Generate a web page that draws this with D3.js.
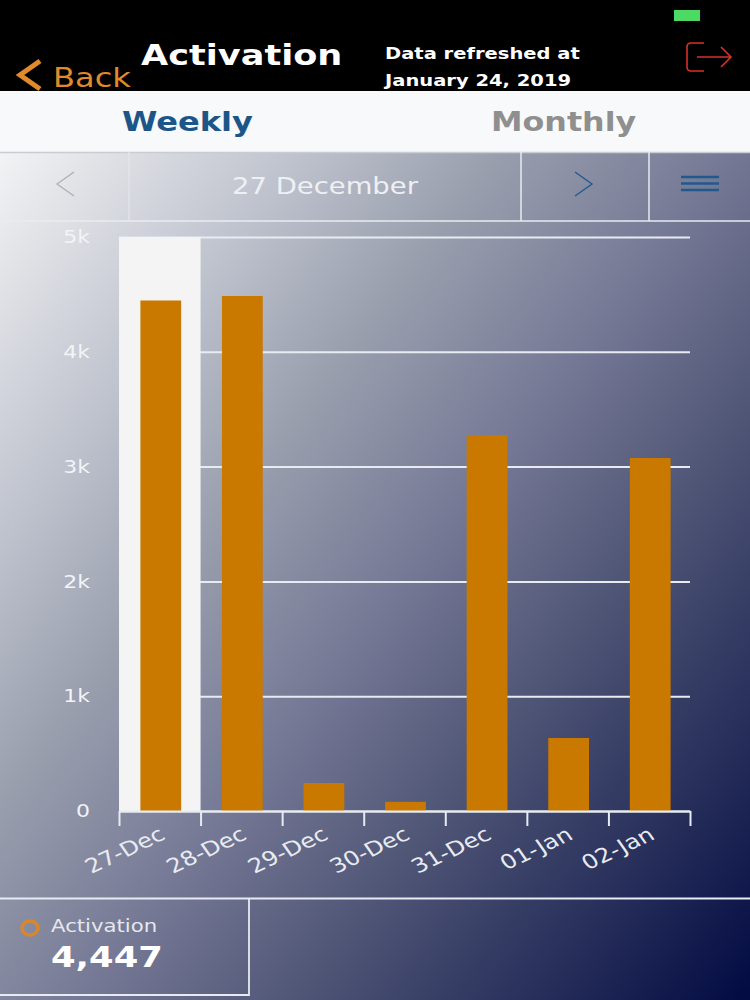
<!DOCTYPE html>
<html>
<head>
<meta charset="utf-8">
<script src="https://cdn.jsdelivr.net/npm/d3@7"></script>
<style>
  html, body { margin: 0; padding: 0; background: #000; }
  svg { display: block; }
  text { font-family: "DejaVu Sans", sans-serif; }
</style>
</head>
<body>
<svg id="chart"></svg>
<script>
const days = ['27-Dec', '28-Dec', '29-Dec', '30-Dec', '31-Dec', '01-Jan', '02-Jan'];
const activation = [4447, 4486, 244, 80, 3275, 636, 3075];
const yTicks = [0, 1000, 2000, 3000, 4000, 5000];
const selectedDay = '27-Dec';

const width = 750;
const height = 1000;
const lineColor = '#e8ebf1';
// the screenshot is stretched sideways, so all text gets the same stretch
const stretch = 1.22;

const svg = d3.select('#chart').attr('width', width).attr('height', height);

const grad = svg.append('defs').append('linearGradient')
	.attr('id', 'bg')
	.attr('gradientUnits', 'userSpaceOnUse')
	.attr('x1', 0).attr('y1', 152)
	.attr('x2', 881).attr('y2', 828);
[[0, '#f2f3f4'], [0.22, '#bdc1cc'], [0.355, '#9a9fae'], [0.53, '#737794'], [0.675, '#505676'], [1, '#020b42']].forEach(d => {
	grad.append('stop').attr('offset', d[0]).attr('stop-color', d[1]);
});

svg.append('rect').attr('width', width).attr('height', 91).attr('fill', '#000');
svg.append('rect').attr('y', 91).attr('width', width).attr('height', 61).attr('fill', '#f8f9fa');
svg.append('rect').attr('y', 152).attr('width', width).attr('height', 848).attr('fill', 'url(#bg)');

function label(x, y, str, size, fill, weight, anchor) {
	return svg.append('text')
		.attr('transform', `translate(${x},${y}) scale(${stretch},1)`)
		.attr('font-size', size)
		.attr('fill', fill)
		.attr('font-weight', weight || 'normal')
		.attr('text-anchor', anchor || 'start')
		.text(str);
}

function seg(path, stroke, w) {
	svg.append('path').attr('d', path).attr('fill', 'none')
		.attr('stroke', stroke).attr('stroke-width', w);
}

// header
svg.append('rect').attr('x', 674).attr('y', 10).attr('width', 26).attr('height', 11).attr('fill', '#4cd964');
seg('M40 61 L20 75 L40 89', '#e08a2c', 5);
label(53, 87, 'Back', 26.3, '#e08a2c');
label(141, 65, 'Activation', 28.8, '#fff', 'bold');
label(385, 59, 'Data refreshed at', 16, '#fff', 'bold');
label(385, 86, 'January 24, 2019', 16, '#fff', 'bold');
seg('M704 43 H691 Q687 43 687 47 V67 Q687 71 691 71 H704 M697 57 H731 M721 47 L731 57 L721 67', '#d8302c', 1.6);

// tabs
label(122, 131, 'Weekly', 26.3, '#1c5688', 'bold');
label(491, 131, 'Monthly', 26, '#8f8f8f', 'bold');

// date selector row
seg('M0 152.5 H750', '#c9ccd3', 1.5);
seg('M0 221 H750', lineColor, 1.5);
seg('M129 152 V221', '#e6e8ec', 1);
seg('M521 152 V221', lineColor, 1.5);
seg('M649 152 V221', lineColor, 1.5);
seg('M74 172 L57 184 L74 196', '#a9adb6', 1.2);
seg('M575 172 L592 184 L575 196', '#1f5a8f', 1.4);
seg('M681 177 H719 M681 183.500 H719 M681 190 H719', '#1f5a8f', 2.6);
label(325, 194, '27 December', 22.5, '#eef0f4', 'normal', 'middle');

// chart
const x = d3.scaleBand().domain(days).range([119, 690]).paddingInner(0.5).paddingOuter(0.25);
const step = x.step();
const y = d3.scaleLinear().domain([0, 5000]).range([811, 237]);

const yAxis = svg.append('g')
	.attr('transform', 'translate(119,0)')
	.call(d3.axisLeft(y)
		.tickValues(yTicks)
		.tickFormat(d => d === 0 ? '0' : d / 1000 + 'k')
		.tickSize(-571));
yAxis.select('.domain').remove();
yAxis.selectAll('.tick line').attr('stroke', lineColor).attr('stroke-width', 2);
yAxis.selectAll('.tick text')
	.attr('x', -29 / stretch)
	.attr('transform', `scale(${stretch},1)`)
	.attr('fill', '#f2f4f7')
	.attr('font-size', 18)
	.attr('font-family', '"DejaVu Sans", sans-serif');

// highlight sits over the grid lines of the selected day
svg.append('rect')
	.attr('x', x(selectedDay) - step * 0.25)
	.attr('y', y(5000))
	.attr('width', step)
	.attr('height', y(0) - y(5000))
	.attr('fill', '#f4f4f5');

svg.selectAll('rect.bar')
	.data(activation)
	.enter()
	.append('rect')
	.attr('class', 'bar')
	.attr('x', (d, i) => x(days[i]) + 1)
	.attr('y', d => y(d))
	.attr('width', x.bandwidth())
	.attr('height', d => y(0) - y(d))
	.attr('fill', '#c97800');

const xAxis = svg.append('g')
	.attr('transform', 'translate(0,811)')
	.call(d3.axisBottom(d3.scalePoint().domain(d3.range(8)).range([119, 690]))
		.tickFormat('')
		.tickSize(15)
		.tickSizeOuter(0));
xAxis.select('.domain').attr('stroke', lineColor).attr('stroke-width', 2);
xAxis.selectAll('.tick line').attr('stroke', lineColor).attr('stroke-width', 2);

svg.append('g').selectAll('text')
	.data(days)
	.enter()
	.append('text')
	.attr('transform', d => `translate(${x(d) + 15},821) scale(${stretch},1) rotate(-30)`)
	.attr('text-anchor', 'end')
	.attr('dy', '1em')
	.attr('font-size', 20)
	.attr('fill', lineColor)
	.text(d => d);

// summary box
seg('M0 898.500 H750', lineColor, 1.8);
seg('M249 898 V995 H0', lineColor, 1.8);
svg.append('ellipse').attr('cx', 30).attr('cy', 928).attr('rx', 8).attr('ry', 7)
	.attr('fill', 'none').attr('stroke', '#d9872b').attr('stroke-width', 3.5);
label(51, 932, 'Activation', 17.4, '#e6e8ee');
label(51, 967, d3.format(',')(activation[0]), 29, '#fff', 'bold');
</script>
</body>
</html>
